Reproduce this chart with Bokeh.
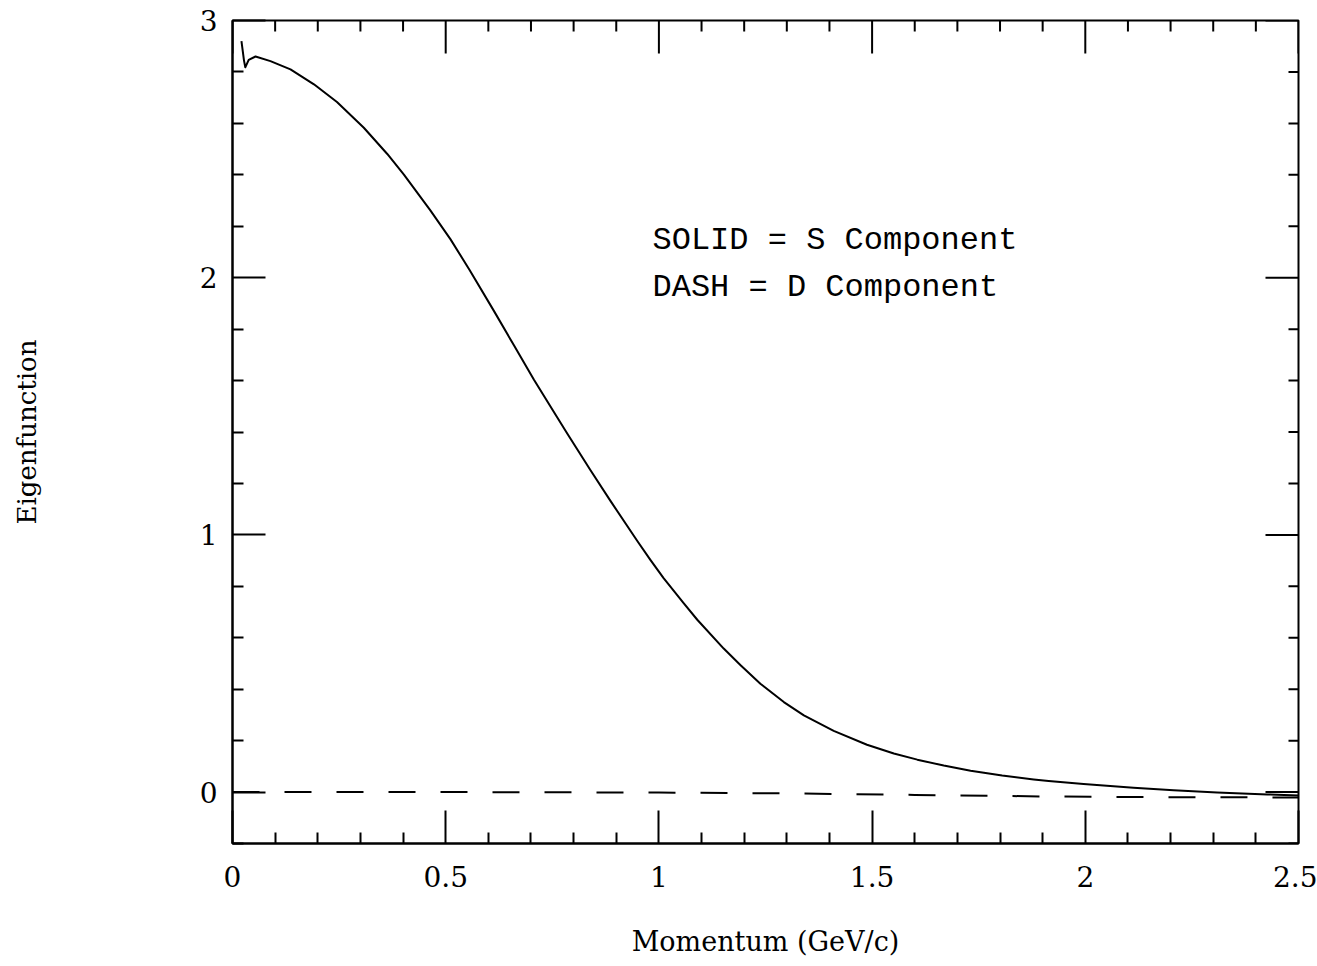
from bokeh.plotting import figure
from bokeh.models import Range1d, FixedTicker, Label
from bokeh.embed import file_html
from bokeh.resources import INLINE

# S component (solid)
s_momentum = [0.021, 0.027, 0.030, 0.038, 0.054, 0.089, 0.136, 0.191, 0.245, 0.308,
              0.363, 0.402, 0.464, 0.511, 0.556, 0.613, 0.660, 0.707, 0.761, 0.785,
              0.840, 0.886, 0.949, 0.980, 1.011, 1.058, 1.090, 1.152, 1.191, 1.238,
              1.293, 1.340, 1.410, 1.488, 1.551, 1.606, 1.668, 1.731, 1.805, 1.879,
              1.914, 1.996, 2.113, 2.207, 2.309, 2.427, 2.5]
s_eigen = [2.920, 2.844, 2.818, 2.847, 2.860, 2.842, 2.810, 2.752, 2.683, 2.583,
           2.481, 2.401, 2.262, 2.150, 2.030, 1.871, 1.737, 1.603, 1.458, 1.394,
           1.250, 1.133, 0.977, 0.903, 0.832, 0.735, 0.670, 0.558, 0.494, 0.421,
           0.350, 0.298, 0.238, 0.184, 0.150, 0.126, 0.103, 0.083, 0.064, 0.049,
           0.043, 0.031, 0.017, 0.007, -0.002, -0.009, -0.013]

# D component (dashed)
d_momentum = [0.0, 0.5, 1.0, 1.3, 1.6, 1.9, 2.2, 2.5]
d_eigen = [0.0, 0.0, -0.002, -0.005, -0.011, -0.017, -0.02, -0.021]

x_tick_values = [0, 0.5, 1, 1.5, 2, 2.5]
x_tick_labels = ["0", "0.5", "1", "1.5", "2", "2.5"]
x_minor_ticks = [0.1, 0.2, 0.3, 0.4, 0.6, 0.7, 0.8, 0.9, 1.1, 1.2, 1.3, 1.4,
                 1.6, 1.7, 1.8, 1.9, 2.1, 2.2, 2.3, 2.4]
y_tick_values = [0, 1, 2, 3]
y_tick_labels = ["0", "1", "2", "3"]
y_minor_ticks = [-0.2, 0.2, 0.4, 0.6, 0.8, 1.2, 1.4, 1.6, 1.8, 2.2, 2.4, 2.6, 2.8]

legend_lines = ["SOLID = S Component", "DASH = D Component"]

FONT = "DejaVu Serif"
X0, X1 = 0, 2.5
Y0, Y1 = -0.2, 3

p = figure(width=1317, height=966, output_backend="svg", toolbar_location=None,
           x_range=Range1d(X0, X1), y_range=Range1d(Y0, Y1),
           min_border_left=232, min_border_right=19, min_border_top=20,
           min_border_bottom=123, x_axis_label="Momentum (GeV/c)",
           y_axis_label="Eigenfunction")
p.background_fill_color = "white"
p.border_fill_color = "white"
p.grid.visible = False
p.outline_line_color = "black"
p.outline_line_width = 2

p.line(s_momentum, s_eigen, line_color="black", line_width=2, line_join="round")
p.line(d_momentum, d_eigen, line_color="black", line_width=2, line_dash="27 25")

xticker = FixedTicker(ticks=x_tick_values, minor_ticks=x_minor_ticks)
yticker = FixedTicker(ticks=y_tick_values, minor_ticks=y_minor_ticks)

for ax, ticker, labels in ((p.xaxis[0], xticker, x_tick_labels),
                           (p.yaxis[0], yticker, y_tick_labels)):
    ax.ticker = ticker
    ax.axis_line_color = "black"
    ax.axis_line_width = 2
    ax.major_tick_in = 33
    ax.major_tick_out = 0
    ax.minor_tick_in = 11
    ax.minor_tick_out = 0
    ax.major_tick_line_width = 2
    ax.minor_tick_line_width = 2
    ax.major_tick_line_color = "black"
    ax.minor_tick_line_color = "black"
    ax.major_label_text_font = FONT
    ax.major_label_text_font_size = "28px"
    ax.major_label_text_color = "black"
    ax.major_label_overrides = {v: t for v, t in zip(ticker.ticks, labels)}
    ax.axis_label_text_font = FONT
    ax.axis_label_text_font_style = "normal"
    ax.axis_label_text_color = "black"

xa = p.xaxis[0]
xa.major_label_standoff = 22
xa.axis_label_text_font_size = "27px"
xa.axis_label_standoff = 36

ya = p.yaxis[0]
ya.major_label_standoff = 15
ya.major_label_orientation = "horizontal"
ya.axis_label_text_font_size = "26px"
ya.axis_label_standoff = 155

# mirrored ticks on the top and right frame edges
p.ray(x=x_tick_values, y=[Y1] * len(x_tick_values), length=33, length_units="screen",
      angle=270, angle_units="deg", line_color="black", line_width=2)
p.ray(x=x_minor_ticks, y=[Y1] * len(x_minor_ticks), length=11, length_units="screen",
      angle=270, angle_units="deg", line_color="black", line_width=2)
p.ray(x=[X1] * len(y_tick_values), y=y_tick_values, length=33, length_units="screen",
      angle=180, angle_units="deg", line_color="black", line_width=2)
p.ray(x=[X1] * len(y_minor_ticks), y=y_minor_ticks, length=10, length_units="screen",
      angle=180, angle_units="deg", line_color="black", line_width=2)

for i, txt in enumerate(legend_lines):
    p.add_layout(Label(x=0.985, y=2.144 - 0.183 * i, text=txt,
                       text_font="Liberation Mono", text_font_size="32px",
                       text_color="black", text_baseline="alphabetic"))

open("out.html", "w").write(file_html(p, INLINE))
